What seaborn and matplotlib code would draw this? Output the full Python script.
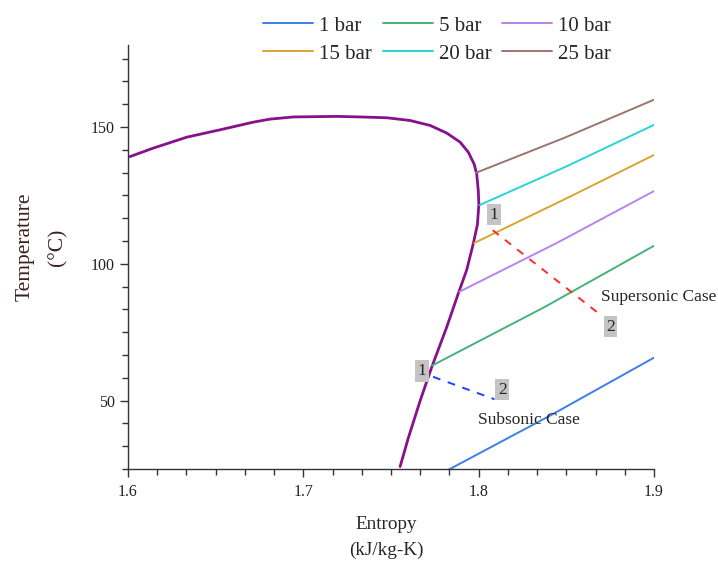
import matplotlib
matplotlib.use("Agg")
import matplotlib.pyplot as plt
import pandas as pd
import seaborn as sns
from matplotlib.ticker import AutoMinorLocator, FormatStrFormatter

# saturation dome (entropy kJ/kg-K, temperature C)
dome_s = [1.6011, 1.6144, 1.6335, 1.6525, 1.6715, 1.681, 1.6943, 1.7191, 1.7323,
          1.7476, 1.7609, 1.7723, 1.7818, 1.7894, 1.7941, 1.7974, 1.7989, 1.7998,
          1.8001, 1.7993, 1.797, 1.7932, 1.7884, 1.7818, 1.7732, 1.7666, 1.7599,
          1.7552]
dome_t = [139.2, 142.3, 146.3, 149.0, 151.8, 152.9, 153.7, 153.9, 153.7,
          153.4, 152.4, 150.6, 147.8, 144.5, 140.8, 136.5, 132.8, 126.6,
          121.7, 114.4, 107.6, 97.8, 89.2, 76.9, 62.2, 49.9, 36.4,
          25.9]

# superheated isobars
pressures = ["1 bar", "5 bar", "10 bar", "15 bar", "20 bar", "25 bar"]
iso_s = {
    "1 bar": [1.7827, 1.841, 1.9],
    "5 bar": [1.7734, 1.837, 1.9],
    "10 bar": [1.789, 1.8445, 1.9],
    "15 bar": [1.7974, 1.8487, 1.9],
    "20 bar": [1.8006, 1.85, 1.9],
    "25 bar": [1.7985, 1.849, 1.9],
}
iso_t = {
    "1 bar": [24.7, 44.6, 65.7],
    "5 bar": [62.8, 84.0, 106.6],
    "10 bar": [89.8, 107.6, 126.6],
    "15 bar": [107.6, 123.5, 139.8],
    "20 bar": [121.5, 135.6, 150.8],
    "25 bar": [133.3, 146.1, 160.0],
}
colors = ["#3d7fe6", "#45b27a", "#b884ea", "#d8a532", "#2ad3d6", "#9c7470"]

# expansion paths
super_s = [1.808, 1.869]
super_t = [112.3, 81.6]
sub_s = [1.774, 1.809]
sub_t = [58.7, 50.5]

sns.set_theme(style="ticks")
plt.rcParams["font.family"] = ["Liberation Serif", "DejaVu Serif"]

fig = plt.figure(figsize=(7.18, 5.63), dpi=100)
ax = fig.add_axes([128 / 718, 1 - 469 / 563, (654 - 128) / 718, (469 - 45) / 563])

dome = pd.DataFrame({"s": dome_s, "T": dome_t})
sns.lineplot(data=dome, x="s", y="T", sort=False, estimator=None,
             color="#87108c", lw=2.0, ax=ax, solid_joinstyle="round")

rows = []
for p in pressures:
    for s, t in zip(iso_s[p], iso_t[p]):
        rows.append({"s": s, "T": t, "P": p})
iso = pd.DataFrame(rows)
sns.lineplot(data=iso, x="s", y="T", hue="P", hue_order=pressures,
             palette=colors, estimator=None, sort=False, lw=1.4, ax=ax)

ax.plot(super_s, super_t, ls=(0, (4, 4)), color="#ff2a2a", lw=1.4)
ax.plot(sub_s, sub_t, ls=(0, (4, 4)), color="#1f3fff", lw=1.4)

box = dict(boxstyle="square,pad=0.15", facecolor="#c4c4c4", edgecolor="none")
ax.text(1.8085, 118.0, "1", fontsize=12.5, ha="center", va="center", bbox=box)
ax.text(1.8752, 77.0, "2", fontsize=12.5, ha="center", va="center", bbox=box)
ax.text(1.7675, 60.8, "1", fontsize=12.5, ha="center", va="center", bbox=box)
ax.text(1.8135, 54.0, "2", fontsize=12.5, ha="center", va="center", bbox=box)
ax.text(1.8695, 88.0, "Supersonic Case", fontsize=12.5, ha="left", va="center", clip_on=False)
ax.text(1.7995, 43.0, "Subsonic Case", fontsize=12.5, ha="left", va="center")

ax.set_xlim(1.6, 1.9)
ax.set_ylim(25, 180)
ax.set_xticks([1.6, 1.7, 1.8, 1.9])
ax.set_yticks([50, 100, 150])
ax.xaxis.set_major_formatter(FormatStrFormatter("%.1f"))
ax.xaxis.set_minor_locator(AutoMinorLocator(6))
ax.yaxis.set_minor_locator(AutoMinorLocator(6))
ax.tick_params(which="major", direction="out", length=6, width=1.0, labelsize=11.5,
               color="#333333", labelcolor="#222222")
ax.tick_params(axis="x", which="major", pad=5)
ax.tick_params(which="minor", direction="out", length=4, width=1.0, color="#333333")
sns.despine(ax=ax)
for sp in ["left", "bottom"]:
    ax.spines[sp].set_color("#333333")
    ax.spines[sp].set_linewidth(1.0)

ax.set_xlabel("Entropy\n(kJ/kg-K)", fontsize=13.8, linespacing=1.65)
ax.xaxis.set_label_coords(0.492, -0.112)
ax.set_ylabel("Temperature\n(°C)", fontsize=15.5, linespacing=1.9, color="#3a1f1f")
ax.yaxis.set_label_coords(-0.115, 0.5236)

handles, labels = ax.get_legend_handles_labels()
ax.get_legend().remove()
order = [0, 3, 1, 4, 2, 5]
fig.legend([handles[i] for i in order], [labels[i] for i in order], ncol=3,
           loc="upper left", bbox_to_anchor=(263 / 718, 1 - 16 / 563), frameon=False,
           fontsize=15, handlelength=2.4, handletextpad=0.3, columnspacing=0.5,
           labelspacing=0.4, borderpad=0, borderaxespad=0)

fig.savefig("out.png", dpi=100)
